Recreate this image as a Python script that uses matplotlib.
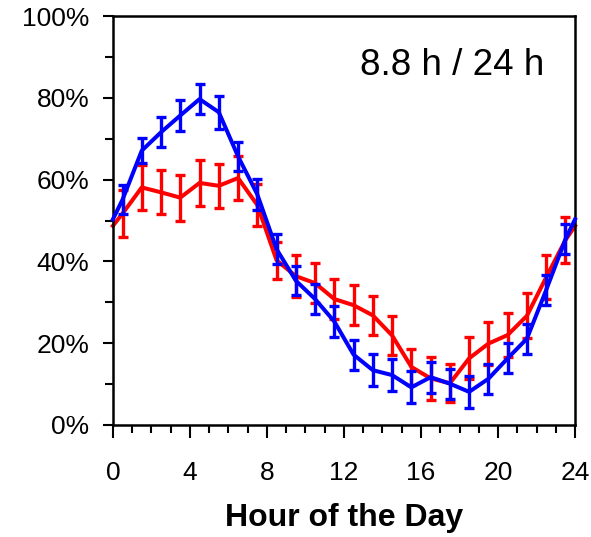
import numpy as np
import matplotlib
matplotlib.use('Agg')
import matplotlib.pyplot as plt
from matplotlib.ticker import MultipleLocator, FuncFormatter

plt.rcParams['font.family'] = ['Liberation Sans', 'DejaVu Sans']

# hours of the day (half-hour bin centres) plus the wrap points at 0 h and 24 h
hours = [0.5, 1.5, 2.5, 3.5, 4.5, 5.5, 6.5, 7.5, 8.5, 9.5, 10.5, 11.5,
         12.5, 13.5, 14.5, 15.5, 16.5, 17.5, 18.5, 19.5, 20.5, 21.5, 22.5, 23.5]
edge_hours = [0, 24]

red_vals = [51.7, 58.1, 56.9, 55.6, 59.2, 58.5, 60.4, 53.8, 40.3, 36.4, 34.7, 30.8,
            29.3, 26.8, 21.9, 14.2, 11.4, 10.2, 16.3, 19.9, 22.0, 26.7, 36.1, 45.2]
red_err = [5.7, 5.4, 5.4, 5.6, 5.7, 5.4, 5.3, 5.1, 4.5, 5.1, 4.9, 5.0,
           4.9, 4.8, 4.8, 4.5, 5.3, 4.7, 5.1, 5.3, 5.3, 5.5, 5.4, 5.7]
red_edge = [48.7, 48.7]

blue_vals = [55.1, 67.1, 71.6, 75.7, 79.7, 76.5, 65.7, 56.4, 43.0, 35.3, 30.8, 25.3,
             17.2, 13.4, 12.2, 9.2, 11.7, 10.1, 8.1, 11.3, 16.3, 21.1, 33.0, 45.4]
blue_err = [3.5, 3.1, 3.7, 3.7, 3.7, 4.0, 3.5, 3.7, 3.7, 3.5, 3.7, 3.7,
            3.7, 3.9, 3.9, 3.9, 3.8, 3.7, 3.9, 3.7, 3.7, 3.7, 3.7, 3.7]
blue_edge = [50.3, 50.3]

x_ticks = [0, 4, 8, 12, 16, 20, 24]
annotation = '8.8 h / 24 h'


def full_series(vals, edge):
    """Line through the wrap point at 0 h, the bins and the wrap point at 24 h."""
    xs = [edge_hours[0]] + hours + [edge_hours[1]]
    ys = [edge[0]] + vals + [edge[1]]
    return xs, ys


fig = plt.figure(figsize=(5.91, 5.37), dpi=100)
ax = fig.add_axes([0.191, 0.2086, 0.782, 0.7614])

for vals, err, edge, color, z in [(red_vals, red_err, red_edge, '#ff0000', 2),
                                  (blue_vals, blue_err, blue_edge, '#0000ff', 3)]:
    xs, ys = full_series(vals, edge)
    ax.plot(xs, ys, color=color, lw=2.9, zorder=z, clip_on=False)
    ax.errorbar(hours, vals, yerr=err, fmt='none', ecolor=color,
                elinewidth=2.4, capsize=3.8, capthick=2.4, zorder=z)

ax.set_xlim(0, 24)
ax.set_ylim(0, 100)
ax.set_xticks(x_ticks)
ax.xaxis.set_minor_locator(MultipleLocator(1))
ax.yaxis.set_major_locator(MultipleLocator(20))
ax.yaxis.set_minor_locator(MultipleLocator(10))
ax.yaxis.set_major_formatter(FuncFormatter(lambda v, p: '%d%%' % v))

ax.tick_params(axis='both', which='major', direction='out', width=1.5,
               labelsize=19, colors='black')
ax.tick_params(axis='x', which='major', length=9, pad=17)
ax.tick_params(axis='y', which='major', length=7, pad=10)
ax.tick_params(axis='x', which='minor', direction='out', length=6, width=1.5)
ax.tick_params(axis='y', which='minor', direction='out', length=6, width=1.5)

for s in ax.spines.values():
    s.set_linewidth(1.8)

ax.set_xlabel('Hour of the Day', fontsize=23, fontweight='bold', labelpad=13)
ax.text(22.4, 85.6, annotation, ha='right', va='baseline', fontsize=26.5)

fig.savefig('out.png', dpi=100)
